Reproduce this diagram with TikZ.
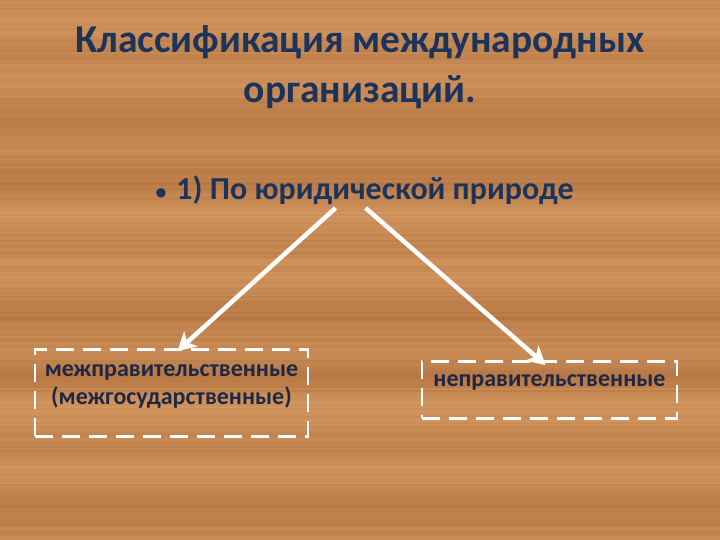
\documentclass[tikz,border=0pt]{standalone}
\usepackage{fontspec}
\setmainfont{Carlito}
\usetikzlibrary{arrows.meta}

\definecolor{woodlight}{RGB}{214,154,98}
\definecolor{wooddark}{RGB}{176,112,62}
\definecolor{titleblue}{RGB}{28,52,92}
\definecolor{boxtext}{RGB}{30,40,70}

\tikzset{
  kind/.style={draw=white, line width=2.5pt, dash pattern=on 18pt off 9pt,
    text=boxtext, font=\fontsize{24}{28}\selectfont\bfseries, align=center,
    inner sep=0pt, anchor=north},
  branch/.style={draw=white, line width=4.5pt, -{Stealth[length=18pt,width=20pt,inset=5pt]}}
}

\begin{document}
\begin{tikzpicture}[x=1pt,y=-1pt] %Классификация
    % фон: дерево
    \fill[woodlight] (0,0) rectangle (720,540);
    \pgfmathsetseed{11}
    \foreach \i in {0,...,269}{
        \pgfmathtruncatemacro\m{55+18*sin(\i*11)+12*sin(\i*3.7)+rnd*30-15}
        \fill[woodlight!\m!wooddark] (0,\i*2) rectangle (720,\i*2+2);
    }
    \useasboundingbox (0,0) rectangle (720,540);

    \node[text=titleblue, font=\fontsize{39.5}{50}\selectfont\bfseries, align=center]
        (title) at (360,67) {Классификация международных\\организаций.};

    \node[text=titleblue, font=\fontsize{32}{36}\selectfont\bfseries, anchor=west]
        (crit) at (152,190) {{\fontsize{22}{22}\selectfont •}\hspace{10pt}1) По юридической природе};

    % рамки
    \node[kind, minimum width=273pt, text height=55pt, text depth=32pt] (inter) at (171.5,348)
        {межправительственные\\(межгосударственные)};
    \node[kind, minimum width=255pt, text height=25pt, text depth=32pt] (ngo) at (549.5,360)
        {неправительственные};

    \draw[branch] ([xshift=-29pt]crit.south) -- ([xshift=6pt,yshift=-3pt]inter.north);
    \draw[branch] ([xshift=1pt]crit.south) -- ([xshift=-4pt,yshift=-5pt]ngo.north);
\end{tikzpicture}
\end{document}
